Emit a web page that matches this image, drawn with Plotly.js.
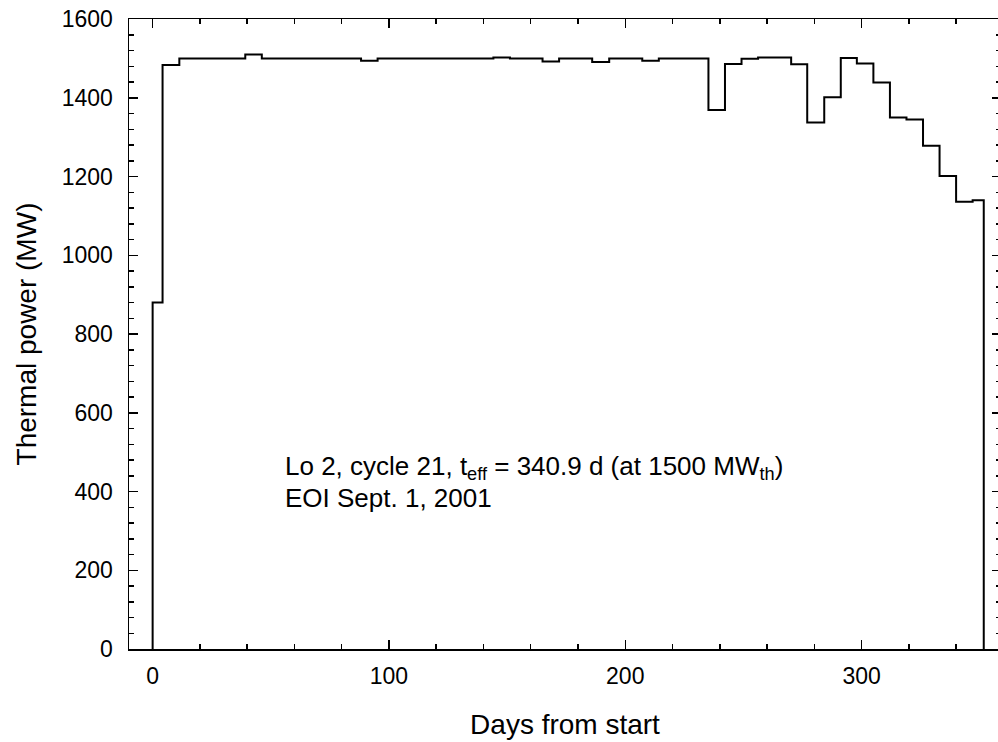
<!DOCTYPE html>
<html>
<head>
<meta charset="utf-8">
<script src="https://cdn.plot.ly/plotly-3.0.1.min.js"></script>
<style>
html,body{margin:0;padding:0;overflow:hidden;width:998px;height:742px;background:#fff;}
#chart{width:1010px;height:742px;}
</style>
</head>
<body>
<div id="chart"></div>
<script>
// Step start day and thermal power held from that day (MW)
var days  = [0, 0, 4.2, 11.3, 39.2, 46.2, 88.2, 95.2, 144.2, 151.2, 165.0, 172.0, 186.0, 193.2, 207.2, 214.2,
             235.2, 242.2, 249.2, 256.2, 270.2, 277.0, 284.2, 291.2, 298.0, 305.0, 312.0, 319.0, 326.0,
             333.0, 340.0, 347.0, 351.7];
var power = [0, 880, 1483, 1500, 1510, 1500, 1494, 1500, 1502, 1500, 1492, 1500, 1491, 1500, 1494, 1500,
             1369, 1486, 1499, 1502, 1485, 1337, 1401, 1501, 1487, 1439, 1350, 1345, 1278,
             1201, 1136, 1140, 0];

var xTicks = [0, 100, 200, 300];
var yTicks = [0, 200, 400, 600, 800, 1000, 1200, 1400, 1600];

var labelLine1 = 'Lo 2, cycle 21, t<sub>eff</sub> = 340.9 d (at 1500 MW<sub>th</sub>)';
var labelLine2 = 'EOI Sept. 1, 2001';

var font = 'Liberation Sans, Arial, sans-serif';

var trace = {
  x: days, y: power, type: 'scatter', mode: 'lines',
  line: {shape: 'hv', color: '#000', width: 2},
  hoverinfo: 'skip'
};

var axisCommon = {
  showgrid: false, zeroline: false, showline: true, linecolor: '#000', linewidth: 1.5,
  mirror: 'ticks', ticks: 'inside', ticklen: 9, tickwidth: 1.5, tickcolor: '#000',
  tickfont: {family: font, size: 23, color: '#000'}
};

var layout = {
  width: 1010, height: 742,
  margin: {l: 129, r: 9, t: 19, b: 93},
  paper_bgcolor: '#fff', plot_bgcolor: '#fff',
  showlegend: false,
  xaxis: Object.assign({}, axisCommon, {
    range: [-10, 359], tickmode: 'array', tickvals: xTicks, ticktext: xTicks.map(String),
    ticklabelstandoff: 6,
    minor: {dtick: 20, tick0: 0, ticks: 'inside', ticklen: 5, tickwidth: 1.5, tickcolor: '#000', showgrid: false},
    title: {text: 'Days from start', font: {family: font, size: 28, color: '#000'}, standoff: 26}
  }),
  yaxis: Object.assign({}, axisCommon, {
    range: [0, 1600], tickmode: 'array', tickvals: yTicks, ticktext: yTicks.map(String),
    ticklabelstandoff: 10,
    minor: {dtick: 40, tick0: 0, ticks: 'inside', ticklen: 5, tickwidth: 1.5, tickcolor: '#000', showgrid: false},
    title: {text: 'Thermal power (MW)', font: {family: font, size: 28, color: '#000'}, standoff: 17}
  }),
  annotations: [
    {x: 55, y: 462, xref: 'x', yref: 'y', xanchor: 'left', yanchor: 'middle', showarrow: false,
     text: labelLine1, font: {family: font, size: 26, color: '#000'}},
    {x: 55, y: 384, xref: 'x', yref: 'y', xanchor: 'left', yanchor: 'middle', showarrow: false,
     text: labelLine2, font: {family: font, size: 26, color: '#000'}}
  ]
};

Plotly.newPlot('chart', [trace], layout, {staticPlot: true, displayModeBar: false});
</script>
</body>
</html>
